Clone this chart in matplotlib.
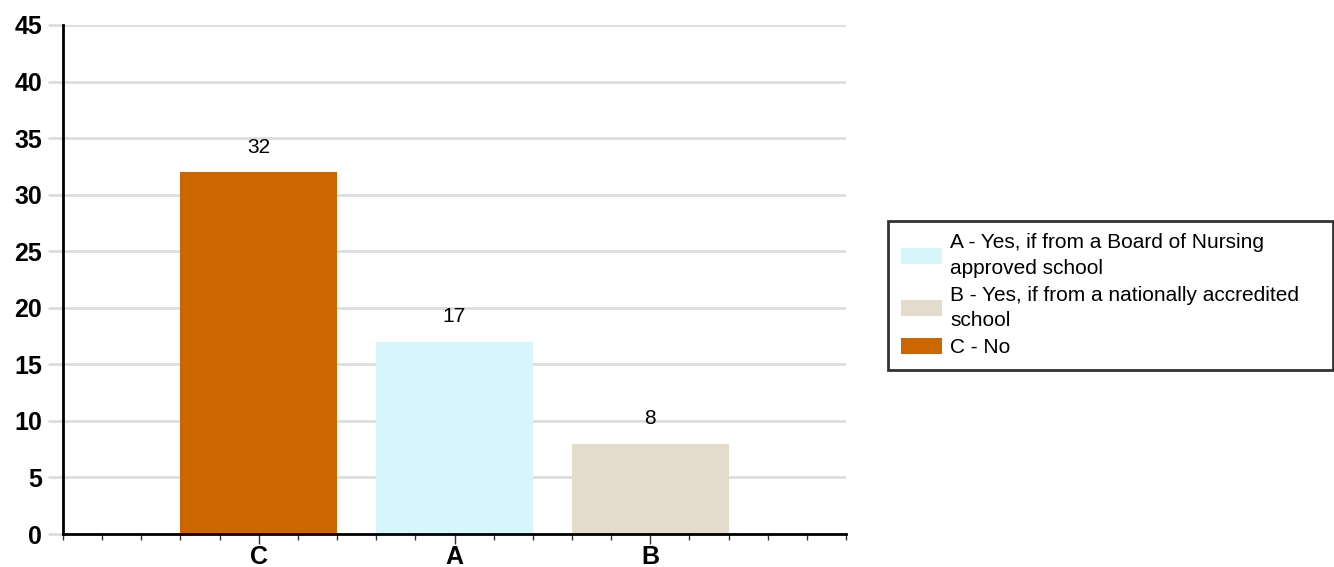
import matplotlib
matplotlib.use("Agg")
import matplotlib.pyplot as plt
from matplotlib.patches import Patch
from matplotlib.ticker import MultipleLocator

plt.rcParams["font.family"] = ["Liberation Sans", "DejaVu Sans"]

categories = ["C", "A", "B"]
values = [32, 17, 8]
bar_colors = ["#cc6600", "#d7f6fb", "#e3dccc"]

legend_labels = [
    "A - Yes, if from a Board of Nursing\napproved school",
    "B - Yes, if from a nationally accredited\nschool",
    "C - No",
]
legend_colors = ["#d7f6fb", "#e3dccc", "#cc6600"]

fig = plt.figure(figsize=(13.34, 5.67), dpi=100, facecolor="white")
ax = fig.add_axes([63 / 1334, 1 - 534 / 567, (846 - 63) / 1334, (534 - 25) / 567])

x = list(range(len(categories)))
ax.bar(x, values, width=0.8, color=bar_colors, zorder=3)
for xi, v in zip(x, values):
    ax.annotate(str(v), (xi, v), xytext=(0, 11), textcoords="offset points",
                ha="center", va="bottom", fontsize=15, color="black")

ax.set_xlim(-1, 3)
ax.set_ylim(0, 45)
ax.yaxis.set_major_locator(MultipleLocator(5))
ax.grid(axis="y", color="#dddddd", linewidth=2, zorder=0)

ax.set_xticks(x)
ax.set_xticklabels(categories, fontsize=18, fontweight="bold")
ax.xaxis.set_minor_locator(MultipleLocator(0.2))
ax.tick_params(axis="x", which="major", length=7, width=1, color="#333333", pad=1)
ax.tick_params(axis="x", which="minor", length=4, width=1, color="#333333")
ax.tick_params(axis="y", which="major", length=11, width=2, color="#dddddd", labelsize=18, pad=4)
for lbl in ax.get_yticklabels():
    lbl.set_fontweight("bold")

for side in ("top", "right"):
    ax.spines[side].set_visible(False)
for side in ("left", "bottom"):
    ax.spines[side].set_linewidth(2)
    ax.spines[side].set_color("black")
    ax.spines[side].set_zorder(4)

# legend box spans to the right edge of the figure, as in the original
handles = [Patch(facecolor=c, edgecolor="none") for c in legend_colors]
leg = fig.legend(handles, legend_labels, loc="upper left", mode="expand",
                 bbox_to_anchor=(888 / 1334, 1 - 370 / 567, (1333 - 888) / 1334, (370 - 221) / 567),
                 fontsize=15, frameon=True, fancybox=False,
                 handlelength=2.0, handleheight=0.8, handletextpad=0.4,
                 labelspacing=0.36, borderpad=0.6, borderaxespad=0)
for t in leg.get_texts():
    t.set_linespacing(1.45)
leg.get_frame().set_edgecolor("black")
leg.get_frame().set_linewidth(2)

fig.savefig("out.png", dpi=100, facecolor="white")
